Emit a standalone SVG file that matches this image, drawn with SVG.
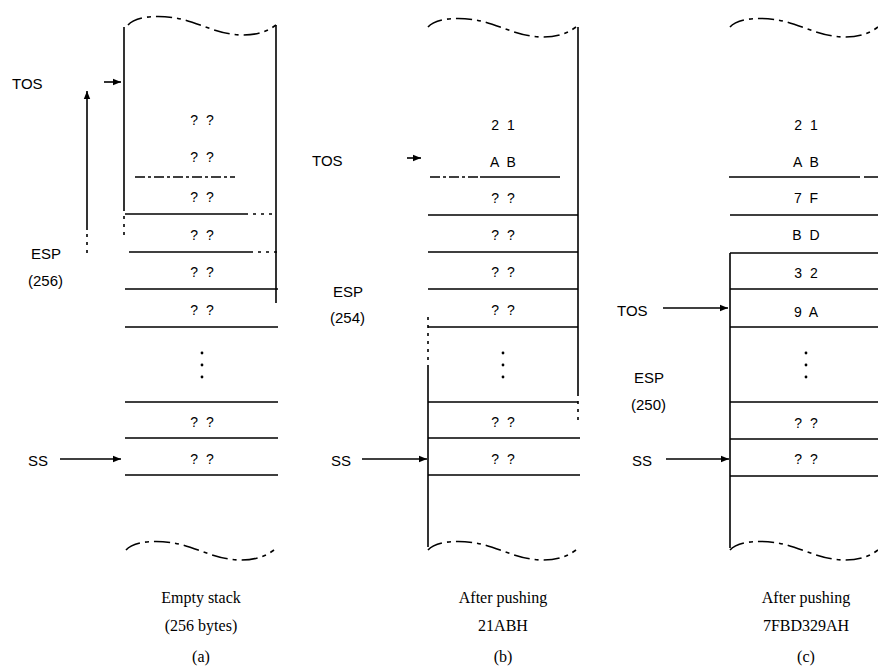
<svg xmlns="http://www.w3.org/2000/svg" width="878" height="671" viewBox="0 0 878 671">
<style>
.ln{stroke:#000;stroke-width:1.6;fill:none}
.dt{stroke:#000;stroke-width:1.6;fill:none;stroke-dasharray:3 5}
.dd{stroke:#000;stroke-width:1.6;fill:none;stroke-dasharray:10 3 3 3}
.wv{stroke:#000;stroke-width:1.6;fill:none;stroke-dasharray:16 5 4 5}
.cell{font-family:"Liberation Sans",Arial,sans-serif;font-size:14px;word-spacing:4px;text-anchor:middle;fill:#000}
.lbl{font-family:"Liberation Sans",Arial,sans-serif;font-size:15px;fill:#000}
.cap{font-family:"Liberation Serif","Times New Roman",serif;font-size:16px;text-anchor:middle;fill:#000}
</style>
<defs>
<path id="wave" d="M0,2 C8,-7 30,-8 48,-5 C70,-1 90,12 115,12 C130,12 140,8 148,2"/>
<marker id="ah" viewBox="0 0 10 10" refX="10" refY="5" markerWidth="8" markerHeight="8" markerUnits="userSpaceOnUse" orient="auto">
<path d="M0,1 L10,5 L0,9 Z" fill="#000"/>
</marker>
</defs>

<g id="panel-a">
<use href="#wave" class="wv" x="128" y="23"/>
<path class="ln" d="M124,27 V208"/>
<path class="dt" d="M124,208 V240"/>
<path class="ln" d="M276,25 V303"/>
<path class="dd" d="M135,177 H235"/>
<path class="ln" d="M125,214 H245"/>
<path class="dt" d="M245,214 H277"/>
<path class="ln" d="M129,252 H250"/>
<path class="dt" d="M250,252 H277"/>
<path class="ln" d="M125,289 H278 M125,327 H278 M125,402 H278 M125,438 H278 M125,475 H278"/>
<g id="a-cells">
<text class="cell" x="202" y="125">? ?</text>
<text class="cell" x="202" y="162">? ?</text>
<text class="cell" x="202" y="202">? ?</text>
<text class="cell" x="202" y="240">? ?</text>
<text class="cell" x="202" y="277">? ?</text>
<text class="cell" x="202" y="315">? ?</text>
<circle cx="202" cy="353" r="1.4"/><circle cx="202" cy="365" r="1.4"/><circle cx="202" cy="377" r="1.4"/>
<text class="cell" x="202" y="427">? ?</text>
<text class="cell" x="202" y="464">? ?</text>
</g>
<use href="#wave" class="wv" x="126" y="548"/>
<text class="lbl" x="12" y="89">TOS</text>
<text class="lbl" x="31" y="259">ESP</text>
<text class="lbl" x="28" y="286">(256)</text>
<text class="lbl" x="28" y="466">SS</text>
<text class="cap" x="201" y="603">Empty stack</text>
<text class="cap" x="201" y="631">(256 bytes)</text>
<text class="cap" x="201" y="662">(a)</text>
</g>

<g id="panel-b">
<use href="#wave" class="wv" x="428" y="25"/>
<path class="ln" d="M578,27 V393"/>
<path class="dt" d="M578,393 V425"/>
<path class="dt" d="M428,317 V367"/>
<path class="ln" d="M428,367 V547"/>
<path class="dd" d="M430,177 H480"/>
<path class="ln" d="M480,177 H560"/>
<path class="ln" d="M428,215 H578 M428,252 H578 M428,289 H578 M428,327 H578 M428,402 H578 M428,438 H580 M428,475 H580"/>
<g id="b-cells">
<text class="cell" x="503" y="130">2 1</text>
<text class="cell" x="503" y="167">A B</text>
<text class="cell" x="503" y="203">? ?</text>
<text class="cell" x="503" y="240">? ?</text>
<text class="cell" x="503" y="277">? ?</text>
<text class="cell" x="503" y="315">? ?</text>
<circle cx="503" cy="353" r="1.4"/><circle cx="503" cy="365" r="1.4"/><circle cx="503" cy="377" r="1.4"/>
<text class="cell" x="503" y="427">? ?</text>
<text class="cell" x="503" y="464">? ?</text>
</g>
<use href="#wave" class="wv" x="428" y="548"/>
<text class="lbl" x="312" y="166">TOS</text>
<text class="lbl" x="333" y="297">ESP</text>
<text class="lbl" x="330" y="323">(254)</text>
<text class="lbl" x="331" y="466">SS</text>
<text class="cap" x="503" y="603">After pushing</text>
<text class="cap" x="503" y="631">21ABH</text>
<text class="cap" x="503" y="662">(b)</text>
</g>

<g id="panel-c">
<use href="#wave" class="wv" x="730" y="25"/>
<path class="ln" d="M730,253 V548"/>
<path class="ln" d="M729,177 H860 M864,177 H878"/>
<path class="ln" d="M730,215 H878 M730,253 H878 M730,289 H878 M730,327 H878 M730,402 H878 M730,439 H878 M730,476 H878"/>
<g id="c-cells">
<text class="cell" x="806" y="130">2 1</text>
<text class="cell" x="806" y="167">A B</text>
<text class="cell" x="806" y="203">7 F</text>
<text class="cell" x="806" y="240">B D</text>
<text class="cell" x="806" y="278">3 2</text>
<text class="cell" x="806" y="317">9 A</text>
<circle cx="806" cy="353" r="1.4"/><circle cx="806" cy="365" r="1.4"/><circle cx="806" cy="377" r="1.4"/>
<text class="cell" x="806" y="428">? ?</text>
<text class="cell" x="806" y="464">? ?</text>
</g>
<use href="#wave" class="wv" x="730" y="548"/>
<text class="lbl" x="617" y="316">TOS</text>
<text class="lbl" x="634" y="383">ESP</text>
<text class="lbl" x="631" y="410">(250)</text>
<text class="lbl" x="632" y="466">SS</text>
<text class="cap" x="806" y="603">After pushing</text>
<text class="cap" x="806" y="631">7FBD329AH</text>
<text class="cap" x="806" y="662">(c)</text>
</g>

<g id="connectors">
<path class="ln" d="M104,82 H121" marker-end="url(#ah)"/>
<path class="dt" d="M87,253 V230"/>
<path class="ln" d="M87,230 V91" marker-end="url(#ah)"/>
<path class="ln" d="M60,459 H121" marker-end="url(#ah)"/>
<path class="ln" d="M407,158 H421" marker-end="url(#ah)"/>
<path class="ln" d="M362,459 H427" marker-end="url(#ah)"/>
<path class="ln" d="M663,308 H728" marker-end="url(#ah)"/>
<path class="ln" d="M666,459 H729" marker-end="url(#ah)"/>
</g>
</svg>
